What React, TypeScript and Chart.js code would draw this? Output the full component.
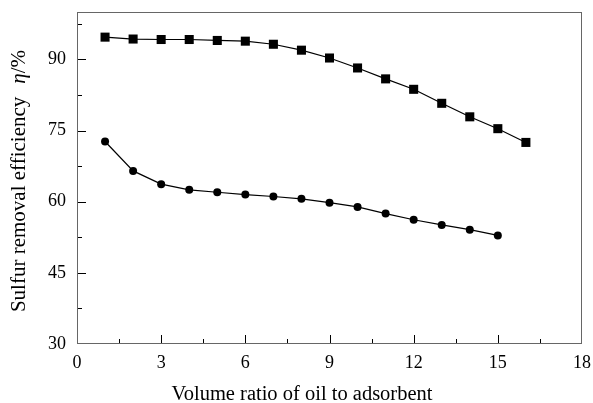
import React, { useEffect, useRef } from "react";
import { Chart, registerables } from "chart.js";

Chart.register(...registerables);

const ratios = [1, 2, 3, 4, 5, 6, 7, 8, 9, 10, 11, 12, 13, 14, 15, 16];
const squareSeries = [94.7, 94.3, 94.2, 94.2, 94.0, 93.85, 93.2, 91.95, 90.3, 88.2, 85.9, 83.7, 80.75, 77.9, 75.4, 72.5];
const circleRatios = [1, 2, 3, 4, 5, 6, 7, 8, 9, 10, 11, 12, 13, 14, 15];
const circleSeries = [72.7, 66.5, 63.7, 62.5, 62.0, 61.5, 61.1, 60.6, 59.8, 58.9, 57.5, 56.2, 55.1, 54.1, 52.9];
const xTicks = [0, 3, 6, 9, 12, 15, 18];
const yTicks = [30, 45, 60, 75, 90];
const xTitle = "Volume ratio of oil to adsorbent";
const yTitleMain = "Sulfur removal efficiency";
const yTitleSymbol = "η";
const yTitleUnit = "/%";

const FONT = "'Liberation Serif', 'Times New Roman', serif";

const frame = {
  id: "frame",
  afterDatasetsDraw(chart: any) {
    const { ctx, chartArea, scales } = chart;
    const { left, right, top, bottom } = chartArea;
    ctx.save();
    ctx.strokeStyle = "#666";
    ctx.lineWidth = 1;
    ctx.strokeRect(left + 0.5, top + 0.5, right - left - 1, bottom - top - 1);
    ctx.strokeStyle = "#000";
    ctx.beginPath();
    const x = scales.x, y = scales.y;
    for (let v = 1.5; v < 18; v += 1.5) {
      const px = Math.round(x.getPixelForValue(v)) + 0.5;
      const major = Math.abs(v % 3) < 1e-9;
      const len = major ? 8 : 4;
      ctx.moveTo(px, bottom - 1);
      ctx.lineTo(px, bottom - 1 - len);
    }
    for (let v = 37.5; v < 100; v += 7.5) {
      const py = Math.round(y.getPixelForValue(v)) + 0.5;
      const major = Math.abs(v % 15) < 1e-9;
      const len = major ? 8 : 4;
      ctx.moveTo(left + 1, py);
      ctx.lineTo(left + 1 + len, py);
    }
    ctx.stroke();

    // axis titles
    ctx.fillStyle = "#000";
    ctx.font = `20.5px ${FONT}`;
    ctx.textAlign = "center";
    ctx.textBaseline = "alphabetic";
    ctx.fillText(xTitle, 302, 400);

    ctx.translate(25, (top + bottom) / 2 + 3);
    ctx.rotate(-Math.PI / 2);
    const normal = `21px ${FONT}`;
    const italic = `italic 21px ${FONT}`;
    ctx.font = normal;
    const w1 = ctx.measureText(yTitleMain).width;
    const w3 = ctx.measureText(yTitleUnit).width;
    ctx.font = italic;
    const w2 = ctx.measureText(yTitleSymbol).width;
    const gap = 13;
    const total = w1 + gap + w2 + w3;
    let cx = -total / 2;
    ctx.textAlign = "left";
    ctx.font = normal;
    ctx.fillText(yTitleMain, cx, 0);
    cx += w1 + gap;
    ctx.font = italic;
    ctx.fillText(yTitleSymbol, cx, 0);
    cx += w2;
    ctx.font = normal;
    ctx.fillText(yTitleUnit, cx, 0);
    ctx.restore();
  },
};

export default function App() {
  const ref = useRef<HTMLCanvasElement>(null);
  useEffect(() => {
    const chart = new Chart(ref.current!, {
      type: "line",
      data: {
        datasets: [
          {
            data: ratios.map((r, i) => ({ x: r, y: squareSeries[i] })),
            borderColor: "#000",
            backgroundColor: "#000",
            borderWidth: 1.2,
            pointStyle: "rect",
            pointRadius: 6.4,
            pointBorderWidth: 0,
          },
          {
            data: circleRatios.map((r, i) => ({ x: r, y: circleSeries[i] })),
            borderColor: "#000",
            backgroundColor: "#000",
            borderWidth: 1.2,
            pointStyle: "circle",
            pointRadius: 4,
            pointBorderWidth: 0,
          },
        ],
      },
      plugins: [frame],
      options: {
        animation: false,
        responsive: false,
        layout: { padding: { top: 12, right: 11, left: 0, bottom: 0 } },
        plugins: { legend: { display: false }, tooltip: { enabled: false } },
        scales: {
          x: {
            type: "linear",
            min: 0,
            max: 18,
            afterBuildTicks: (s: any) => {
              s.ticks = xTicks.map((v) => ({ value: v }));
            },
            afterFit: (s: any) => {
              s.height = 59;
              s.paddingLeft = 0;
              s.paddingRight = 0;
            },
            grid: { display: false, drawTicks: false },
            border: { display: false },
            ticks: { color: "#000", font: { family: FONT, size: 18 }, padding: 8, maxRotation: 0, autoSkip: false },
            title: { display: false },
          },
          y: {
            type: "linear",
            min: 30,
            max: 100,
            afterBuildTicks: (s: any) => {
              s.ticks = yTicks.map((v) => ({ value: v }));
            },
            afterFit: (s: any) => {
              s.width = 77;
              s.paddingTop = 0;
              s.paddingBottom = 0;
            },
            grid: { display: false, drawTicks: false },
            border: { display: false },
            ticks: { color: "#000", font: { family: FONT, size: 18 }, padding: 11, autoSkip: false },
            title: { display: false },
          },
        },
      },
    });
    return () => chart.destroy();
  }, []);
  return (
    <div style={{ position: "absolute", left: 0, top: 0, width: 593, height: 403, background: "#fff" }}>
      <canvas ref={ref} width={593} height={403} />
    </div>
  );
}
